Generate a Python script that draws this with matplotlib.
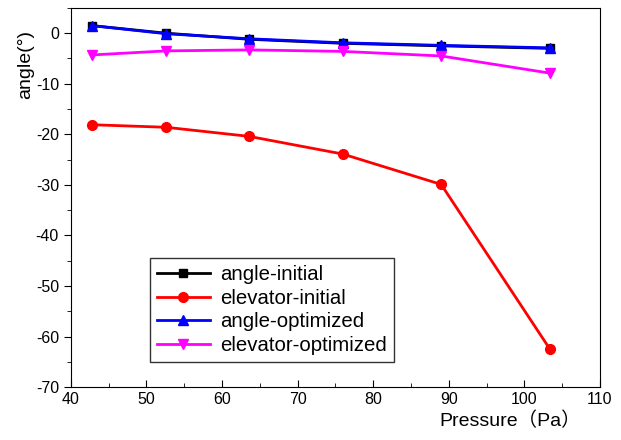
import matplotlib
matplotlib.use('Agg')
from matplotlib import pyplot as plt
from matplotlib.ticker import MultipleLocator

# Data
pressure = [42.8, 52.6, 63.6, 76.0, 89.0, 103.4]
angle_initial = [1.5, 0.0, -1.2, -2.0, -2.5, -3.0]
elevator_initial = [-18.1, -18.6, -20.4, -23.9, -29.9, -62.5]
angle_optimized = [1.5, -0.1, -1.1, -1.9, -2.4, -2.9]
elevator_optimized = [-4.3, -3.5, -3.3, -3.6, -4.5, -7.9]

plt.rcParams['font.family'] = ['Liberation Sans', 'Noto Sans CJK SC', 'DejaVu Sans']
plt.rcParams['axes.unicode_minus'] = False

fig = plt.figure(figsize=(6.21, 4.40), dpi=100)
ax = fig.add_axes([0.114, 0.120, 0.852, 0.862])

ax.plot(pressure, angle_initial, color='black', marker='s', markersize=6, linewidth=2, label='angle-initial')
ax.plot(pressure, elevator_initial, color='red', marker='o', markersize=7, linewidth=2, label='elevator-initial')
ax.plot(pressure, angle_optimized, color='blue', marker='^', markersize=7, linewidth=2, label='angle-optimized')
ax.plot(pressure, elevator_optimized, color='magenta', marker='v', markersize=7, linewidth=2, label='elevator-optimized')

ax.set_xlim(40, 110)
ax.set_ylim(-70, 5)
ax.xaxis.set_major_locator(MultipleLocator(10))
ax.xaxis.set_minor_locator(MultipleLocator(5))
ax.yaxis.set_major_locator(MultipleLocator(10))
ax.yaxis.set_minor_locator(MultipleLocator(5))
ax.tick_params(axis='x', which='both', direction='in', labelsize=11.5)
ax.tick_params(axis='y', which='both', direction='out', labelsize=11.5)
ax.tick_params(which='major', length=5)
ax.tick_params(which='minor', length=3)

ax.set_xlabel('Pressure（Pa）', fontsize=14)
ax.xaxis.set_label_coords(0.83, -0.065)
ax.set_ylabel('angle(°)', fontsize=14)
ax.yaxis.set_label_coords(-0.07, 0.85)

leg = ax.legend(loc='lower left', bbox_to_anchor=(0.13, 0.04), fontsize=14.7,
                frameon=True, fancybox=False, edgecolor='black', handlelength=2.6,
                borderpad=0.35, labelspacing=0.22, handletextpad=0.5)
leg.get_frame().set_linewidth(1)

fig.savefig('out.png', dpi=100)
